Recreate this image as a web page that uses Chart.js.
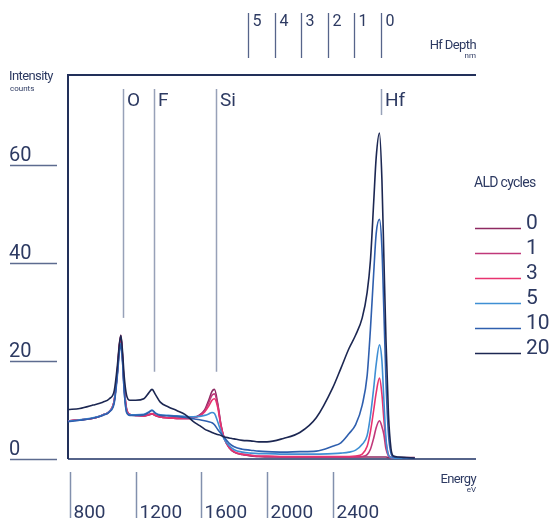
<!DOCTYPE html>
<html><head><meta charset="utf-8">
<script src="https://cdn.jsdelivr.net/npm/chart.js@4/dist/chart.umd.min.js"></script>
<style>html,body{margin:0;padding:0;background:#fff;}canvas{display:block;}</style>
</head><body>
<canvas id="c" width="554" height="525"></canvas>
<script>
// Energy grid (eV)
const energy = [788,860,940,1000,1040,1070,1090,1100,1110,1120,1130,1145,1165,1200,1250,1280,1300,1320,1350,1400,1450,1500,1550,1590,1620,1645,1665,1680,1700,1720,1740,1770,1800,1850,1900,1950,2000,2100,2200,2300,2400,2450,2500,2540,2580,2610,2630,2650,2665,2685,2700,2712,2725,2740,2755,2770,2800,2850,2900];
// Intensity (counts) per ALD cycle count
const cycles0 = [7.8,8.0,8.3,9.0,9.7,12.0,18.5,23.0,25.3,21.0,15.0,10.2,9.1,8.9,8.8,9.0,9.2,8.9,8.6,8.4,8.3,8.3,8.4,9.0,10.0,12.0,13.8,14.2,11.3,6.9,4.2,2.3,1.4,0.9,0.6,0.5,0.4,0.4,0.4,0.4,0.4,0.4,0.4,0.4,0.4,0.4,0.4,0.4,0.4,0.4,0.4,0.4,0.4,0.3,0.3,0.3,0.3,0.3,0.3];
const cycles1 = [7.8,8.0,8.3,9.0,9.7,12.0,18.3,22.8,25.0,20.8,14.8,10.1,9.1,8.9,8.8,9.0,9.2,8.9,8.6,8.4,8.3,8.3,8.4,8.9,9.8,11.5,13.0,13.3,11.0,6.8,4.2,2.3,1.4,0.9,0.7,0.5,0.5,0.4,0.4,0.4,0.4,0.4,0.4,0.4,0.5,0.9,2.0,4.3,6.4,7.8,6.6,5.0,2.0,0.6,0.3,0.2,0.2,0.2,0.2];
const cycles3 = [7.8,8.0,8.3,9.0,9.7,12.0,18.2,22.6,24.8,20.6,14.6,10.0,9.1,8.9,8.8,9.1,9.3,8.9,8.6,8.4,8.3,8.3,8.4,8.8,9.6,10.8,12.0,12.3,10.5,6.6,4.2,2.4,1.5,1.0,0.8,0.6,0.6,0.5,0.5,0.5,0.5,0.5,0.5,0.6,1.0,2.6,5.6,10.0,13.5,16.5,13.2,8.0,3.5,0.8,0.3,0.2,0.2,0.2,0.2];
const cycles5 = [7.7,8.0,8.4,9.0,9.7,11.8,18.0,22.0,23.6,20.0,14.0,9.6,9.0,9.0,9.1,9.6,10.0,9.4,9.0,8.9,8.8,8.7,8.6,8.7,8.9,9.2,9.5,9.3,7.6,5.6,4.0,2.7,1.9,1.4,1.2,1.1,1.1,1.0,1.0,1.0,1.1,1.2,1.4,1.8,3.0,4.8,8.8,14.5,19.3,23.3,20.0,12.0,4.0,0.8,0.3,0.2,0.1,0.1,0.1];
const cycles10 = [7.6,7.9,8.3,8.9,9.6,11.5,17.5,21.5,23.3,20.0,14.0,9.5,8.9,8.9,9.0,9.5,9.9,9.3,8.9,8.8,8.7,8.5,8.2,8.0,7.8,7.6,7.4,7.0,6.0,5.2,4.4,3.2,2.5,2.0,1.8,1.6,1.5,1.4,1.5,1.6,2.6,3.3,5.2,7.0,11.0,17.0,26.5,38.0,46.0,48.9,43.0,30.0,15.5,5.0,1.2,0.4,0.3,0.2,0.1];
const cycles20 = [10.1,10.3,11.0,11.6,12.3,14.0,19.5,23.2,25.2,22.0,17.0,13.0,12.0,12.0,12.3,13.5,14.2,13.2,11.6,10.6,9.9,9.1,7.7,6.8,6.1,5.7,5.4,5.2,5.0,4.8,4.5,4.3,4.1,3.8,3.7,3.5,3.5,4.2,5.4,8.4,14.5,18.5,22.6,25.3,28.8,34.0,40.5,52.5,61.5,66.5,57.0,41.0,24.0,9.0,2.2,0.6,0.4,0.3,0.2];

const seriesLabels = ['0','1','3','5','10','20'];
const seriesValues = [cycles0, cycles1, cycles3, cycles5, cycles10, cycles20];
const seriesColors = ['#8e2a62','#c0387a','#e8336f','#3f8fd4','#2f5fae','#1c2752'];

const yTicks = [0, 20, 40, 60];
const xTicks = [800, 1200, 1600, 2000, 2400];
const depthLabels = ['5','4','3','2','1','0'];
const depthEnergy = [1886, 2049, 2207, 2370, 2532, 2694];
const elementLabels = ['O','F','Si','Hf'];
const elementEnergy = [1121, 1312, 1689, 2694];
const elementLineEnd = [28.8, 17.8, 17.8, 70.2];

const TEXT = '#2d3a62';
const FONT = 'Roboto, "Liberation Sans", sans-serif';

const decor = {
  id: 'decor',
  beforeDatasetsDraw(chart) {
    const {ctx, chartArea: a} = chart;
    ctx.save();
    ctx.lineCap = 'butt';
    // bottom axis line
    ctx.strokeStyle = '#56648a'; ctx.lineWidth = 2;
    ctx.beginPath(); ctx.moveTo(a.left, a.bottom); ctx.lineTo(a.right, a.bottom); ctx.stroke();
    // left & top frame
    ctx.strokeStyle = '#22305a'; ctx.lineWidth = 2;
    ctx.beginPath(); ctx.moveTo(a.left, a.bottom); ctx.lineTo(a.left, a.top); ctx.lineTo(a.right, a.top); ctx.stroke();
    // element marker lines
    const xs = chart.scales.x, ys = chart.scales.y;
    ctx.strokeStyle = '#97a1b8'; ctx.lineWidth = 1.5;
    elementEnergy.forEach((e, i) => {
      const x = Math.round(xs.getPixelForValue(e)) + 0.5;
      ctx.beginPath(); ctx.moveTo(x, 89); ctx.lineTo(x, ys.getPixelForValue(elementLineEnd[i])); ctx.stroke();
    });
    ctx.restore();
  },
  afterDatasetsDraw(chart) {
    const {ctx, chartArea: a} = chart;
    const xs = chart.scales.x, ys = chart.scales.y;
    ctx.save();
    ctx.fillStyle = TEXT;
    ctx.textBaseline = 'alphabetic';
    // element labels
    ctx.font = '19px ' + FONT; ctx.textAlign = 'left';
    elementEnergy.forEach((e, i) => {
      const x = Math.round(xs.getPixelForValue(e));
      ctx.fillText(elementLabels[i], x + 4, 106);
    });
    // y ticks
    ctx.strokeStyle = '#5d6b8f'; ctx.lineWidth = 1.5;
    ctx.font = '20px ' + FONT;
    yTicks.forEach(v => {
      const y = Math.round(ys.getPixelForValue(v)) + 0.5;
      ctx.beginPath(); ctx.moveTo(10, y); ctx.lineTo(57, y); ctx.stroke();
      ctx.fillText(String(v), 9, y - 5);
    });
    // x ticks
    ctx.strokeStyle = '#8290ad'; ctx.lineWidth = 1.5;
    ctx.font = '19px ' + FONT;
    xTicks.forEach(v => {
      const x = Math.round(xs.getPixelForValue(v)) + 0.5;
      ctx.beginPath(); ctx.moveTo(x, 472); ctx.lineTo(x, 518); ctx.stroke();
      ctx.fillText(String(v), x + 3, 518);
    });
    // depth ticks (top)
    ctx.strokeStyle = '#56648a'; ctx.lineWidth = 1.3;
    ctx.font = '16px ' + FONT;
    depthEnergy.forEach((e, i) => {
      const x = Math.round(xs.getPixelForValue(e)) + 0.5;
      ctx.beginPath(); ctx.moveTo(x, 13); ctx.lineTo(x, 58); ctx.stroke();
      ctx.fillText(depthLabels[i], x + 4, 26);
    });
    // axis titles
    ctx.letterSpacing = '-0.6px';
    ctx.font = '13px ' + FONT;
    ctx.fillText('Intensity', 9, 80);
    ctx.textAlign = 'right';
    ctx.fillText('Hf Depth', 476, 49);
    ctx.fillText('Energy', 476, 483);
    ctx.font = '8px ' + FONT; ctx.letterSpacing = '0px';
    ctx.textAlign = 'left';
    ctx.fillText('counts', 10, 91);
    ctx.textAlign = 'right';
    ctx.fillText('nm', 476, 58);
    ctx.fillText('eV', 476, 492);
    // legend
    ctx.textAlign = 'left';
    ctx.letterSpacing = '-0.7px';
    ctx.font = '14px ' + FONT;
    ctx.fillText('ALD cycles', 474, 187);
    ctx.letterSpacing = '0px';
    ctx.font = '21px ' + FONT;
    chart.data.datasets.forEach((ds, i) => {
      const y = 228.5 + i * 25;
      ctx.strokeStyle = ds.borderColor; ctx.lineWidth = 1.5;
      ctx.beginPath(); ctx.moveTo(475, y); ctx.lineTo(521, y); ctx.stroke();
      ctx.fillText(ds.label, 526, y);
    });
    ctx.restore();
  }
};

const datasets = seriesLabels.map((lab, i) => ({
  label: lab,
  data: energy.map((e, k) => ({x: e, y: seriesValues[i][k]})),
  borderColor: seriesColors[i],
  borderWidth: 1.6,
  pointRadius: 0,
  fill: false,
  cubicInterpolationMode: 'monotone',
  order: seriesLabels.length - i
}));

new Chart(document.getElementById('c'), {
  type: 'line',
  data: { datasets },
  options: {
    responsive: false,
    animation: false,
    devicePixelRatio: 1,
    layout: { padding: { left: 68, top: 75, right: 78, bottom: 66 } },
    plugins: { legend: { display: false }, tooltip: { enabled: false } },
    scales: {
      x: { type: 'linear', min: 788, max: 3273, display: false },
      y: { min: 0, max: 78.37, display: false }
    }
  },
  plugins: [decor]
});
</script>
</body></html>
